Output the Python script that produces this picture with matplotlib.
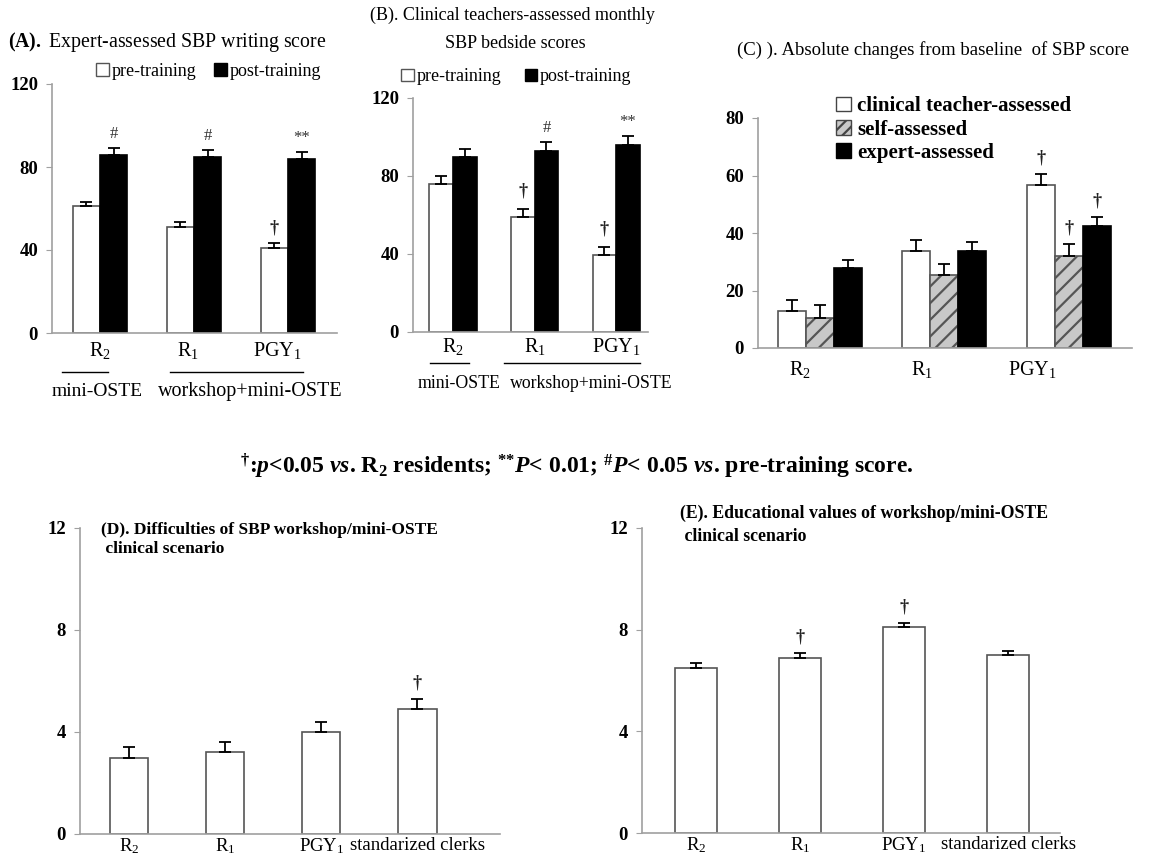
import numpy as np
import matplotlib
matplotlib.use('Agg')
import matplotlib.pyplot as plt
from matplotlib.patches import Patch

plt.rcParams['font.family'] = ['Liberation Serif', 'DejaVu Serif']
plt.rcParams['mathtext.fontset'] = 'custom'
plt.rcParams['mathtext.rm'] = 'Liberation Serif'
plt.rcParams['mathtext.it'] = 'Liberation Serif:italic:bold'
plt.rcParams['mathtext.bf'] = 'Liberation Serif:bold'
plt.rcParams['mathtext.default'] = 'regular'
plt.rcParams['hatch.linewidth'] = 1.6

# ---- data ----
groups3 = ['R$_2$', 'R$_1$', 'PGY$_1$']
groups4 = ['R$_2$', 'R$_1$', 'PGY$_1$', 'standarized clerks']

# (A) expert-assessed writing score
a_pre = [61, 51, 41]
a_pre_err = [2.3, 2.3, 2.3]
a_post = [86, 85, 84]
a_post_err = [3, 3.3, 3.2]
a_pre_mark = ['', '', '†']
a_post_mark = ['#', '#', '**']

# (B) clinical teachers-assessed bedside scores
b_pre = [76, 59, 39.5]
b_pre_err = [4, 4, 4]
b_post = [89.5, 93, 96]
b_post_err = [4.4, 4.3, 4.6]
b_pre_mark = ['', '†', '†']
b_post_mark = ['', '#', '**']

# (C) absolute changes from baseline
c_clin = [12.8, 33.6, 56.6]
c_clin_err = [4, 4.1, 4]
c_self = [10.4, 25.4, 32.1]
c_self_err = [4.4, 3.9, 4.1]
c_expert = [27.8, 33.6, 42.6]
c_expert_err = [2.9, 3.2, 3.1]
c_clin_mark = ['', '', '†']
c_self_mark = ['', '', '†']
c_expert_mark = ['', '', '†']

# (D) difficulties
d_vals = [3.0, 3.2, 4.0, 4.9]
d_err = [0.4, 0.4, 0.4, 0.4]
d_mark = ['', '', '', '†']

# (E) educational values
e_vals = [6.5, 6.9, 8.1, 7.0]
e_err = [0.2, 0.18, 0.17, 0.18]
e_mark = ['', '†', '†', '']

W, H = 1154, 858
fig = plt.figure(figsize=(W / 100, H / 100), dpi=100)


def px_axes(x0, x1, ytop, ybot):
    return fig.add_axes([x0 / W, 1 - ybot / H, (x1 - x0) / W, (ybot - ytop) / H])


def style(ax, ymax, ystep, xsize=14.5):
    for s in ['top', 'right']:
        ax.spines[s].set_visible(False)
    for s in ['left', 'bottom']:
        ax.spines[s].set_color('#a0a0a0')
        ax.spines[s].set_linewidth(1.2)
    ax.set_ylim(0, ymax)
    ax.set_yticks(np.arange(0, ymax + 1, ystep))
    ax.tick_params(axis='y', length=4, color='#a0a0a0', labelsize=13.5, pad=6)
    for lab in ax.get_yticklabels():
        lab.set_fontweight('bold')
    ax.tick_params(axis='x', length=0, labelsize=xsize, pad=6)


def bars(ax, x, vals, errs, width, marks, face, hatch=None, mark_gap=3.0):
    ax.bar(x, vals, width, color=face, edgecolor='#555555' if face != 'black' else 'black',
           linewidth=1.2, hatch=hatch, zorder=2)
    ax.errorbar(x, vals, yerr=[np.zeros(len(vals)), errs], fmt='none', ecolor='black',
                elinewidth=1.3, capsize=4, capthick=1.3, zorder=3)
    for xi, v, e, m in zip(x, vals, errs, marks):
        if m:
            if m == '†':
                ax.text(xi, v + e + mark_gap, m, ha='center', va='bottom', fontsize=13,
                        fontweight='bold', color='#222222')
            else:
                ax.text(xi, v + e + mark_gap, m, ha='center', va='bottom', fontsize=12,
                        color='#333333')


def group_labels(ax, line1, line2, y_line, y_text, x_text1, x_text2, size1=14, size2=14.5):
    tr = ax.get_xaxis_transform()
    ax.plot(line1, [y_line, y_line], color='black', lw=1, transform=tr, clip_on=False)
    ax.plot(line2, [y_line, y_line], color='black', lw=1, transform=tr, clip_on=False)
    ax.text(x_text1, y_text, 'mini-OSTE', ha='center', va='center', fontsize=size1, transform=tr)
    ax.text(x_text2, y_text, 'workshop+mini-OSTE', ha='center', va='center', fontsize=size2,
            transform=tr)


# ---- (A) ----
ax = px_axes(52, 337, 84, 333)
x = np.arange(3)
bw = 0.29
bars(ax, x - bw / 2, a_pre, a_pre_err, bw, a_pre_mark, 'white')
bars(ax, x + bw / 2, a_post, a_post_err, bw, a_post_mark, 'black')
style(ax, 120, 40)
ax.set_xlim(-0.51, 2.52)
ax.set_xticks(x + np.array([0, -0.07, -0.11]))
ax.set_xticklabels(groups3)
ax.tick_params(axis='x', pad=5)
group_labels(ax, [-0.40, 0.085], [0.745, 2.16], -0.157, -0.233, -0.03, 1.6)
ax.legend(handles=[Patch(facecolor='white', edgecolor='#555555', label='pre-training'),
                   Patch(facecolor='black', edgecolor='black', label='post-training')],
          loc='center', bbox_to_anchor=(0.55, 1.05), ncol=2, frameon=False, fontsize=13,
          handlelength=0.7, handleheight=0.7, handletextpad=0.15, columnspacing=1.0)
fig.text(8 / W, 1 - 42 / H, r'$\mathbf{(A).}$ Expert-assessed SBP writing score',
         fontsize=14.3, ha='left', va='center')

# ---- (B) ----
ax = px_axes(413, 648, 98, 332)
bw = 0.29
bars(ax, x - bw / 2, b_pre, b_pre_err, bw, b_pre_mark, 'white', mark_gap=5)
bars(ax, x + bw / 2, b_post, b_post_err, bw, b_post_mark, 'black')
style(ax, 120, 40)
ax.set_xlim(-0.49, 2.39)
ax.set_xticks(x)
ax.set_xticklabels(groups3)
ax.tick_params(axis='x', pad=3)
group_labels(ax, [-0.28, 0.2], [0.63, 2.29], -0.132, -0.218, 0.07, 1.7,
             size1=12.8, size2=12.8)
ax.legend(handles=[Patch(facecolor='white', edgecolor='#555555', label='pre-training'),
                   Patch(facecolor='black', edgecolor='black', label='post-training')],
          loc='center', bbox_to_anchor=(0.44, 1.09), ncol=2, frameon=False, fontsize=13,
          handlelength=0.7, handleheight=0.7, handletextpad=0.15, columnspacing=1.3)
fig.text(370 / W, 1 - 15 / H, '(B). Clinical teachers-assessed monthly',
         fontsize=13, ha='left', va='center')
fig.text(515 / W, 1 - 44 / H, 'SBP bedside scores', fontsize=13, ha='center', va='center')

# ---- (C) ----
ax = px_axes(758, 1132, 118, 348)
bw = 0.225
bars(ax, x - bw, c_clin, c_clin_err, bw, c_clin_mark, 'white', mark_gap=2.5)
bars(ax, x, c_self, c_self_err, bw, c_self_mark, '#c8c8c8', hatch='//', mark_gap=2.5)
bars(ax, x + bw, c_expert, c_expert_err, bw, c_expert_mark, 'black', mark_gap=2.5)
style(ax, 80, 20)
ax.set_xlim(-0.50, 2.51)
ax.set_xticks(x - np.array([0.16, 0.18, 0.29]))
ax.set_xticklabels(groups3)
ax.tick_params(axis='x', pad=8)
fig.legend(handles=[Patch(facecolor='white', edgecolor='#444444', label='clinical teacher-assessed'),
                    Patch(facecolor='#c8c8c8', edgecolor='#444444', hatch='///', label='self-assessed'),
                    Patch(facecolor='black', edgecolor='black', label='expert-assessed')],
           loc='upper left', bbox_to_anchor=(826 / W, 1 - 86 / H), frameon=False,
           prop={'size': 15, 'weight': 'bold'}, handlelength=0.7, handleheight=0.7,
           handletextpad=0.3, labelspacing=0.15, borderpad=0)
fig.text(737 / W, 1 - 50 / H, '(C) ). Absolute changes from baseline  of SBP score',
         fontsize=13.5, ha='left', va='center')

# ---- (D) ----
ax = px_axes(80, 500, 528, 834)
x4 = np.arange(4)
bars(ax, x4, d_vals, d_err, 0.40, d_mark, 'white', mark_gap=0.3)
style(ax, 12, 4, xsize=13.5)
ax.set_xlim(-0.51, 3.86)
ax.set_xticks(x4)
ax.set_xticklabels(groups4)
ax.tick_params(axis='x', pad=2)
ax.text(0.05, 1.02, '(D). Difficulties of SBP workshop/mini-OSTE\n clinical scenario',
        transform=ax.transAxes, ha='left', va='top', fontsize=12.5, fontweight='bold',
        linespacing=1.3)

# ---- (E) ----
ax = px_axes(642, 1060, 528, 833)
bars(ax, x4, e_vals, e_err, 0.40, e_mark, 'white', mark_gap=0.3)
style(ax, 12, 4, xsize=13.5)
ax.set_xlim(-0.52, 3.5)
ax.set_xticks(x4)
ax.set_xticklabels(groups4)
ax.tick_params(axis='x', pad=2)
ax.text(0.09, 1.075, '(E). Educational values of workshop/mini-OSTE\n clinical scenario',
        transform=ax.transAxes, ha='left', va='top', fontsize=12.8, fontweight='bold',
        linespacing=1.45)

# ---- footnote ----
fig.text(577 / W, 1 - 466 / H,
         r'$^{†}$:$\it{p}$<0.05 $\it{vs}$. R$_2$ residents; $^{{*}{*}}$$\it{P}$< 0.01; '
         r'$^{\#}$$\it{P}$< 0.05 $\it{vs}$. pre-training score.',
         fontsize=17, fontweight='bold', ha='center', va='center')

fig.savefig('out.png', dpi=100, facecolor='white')
